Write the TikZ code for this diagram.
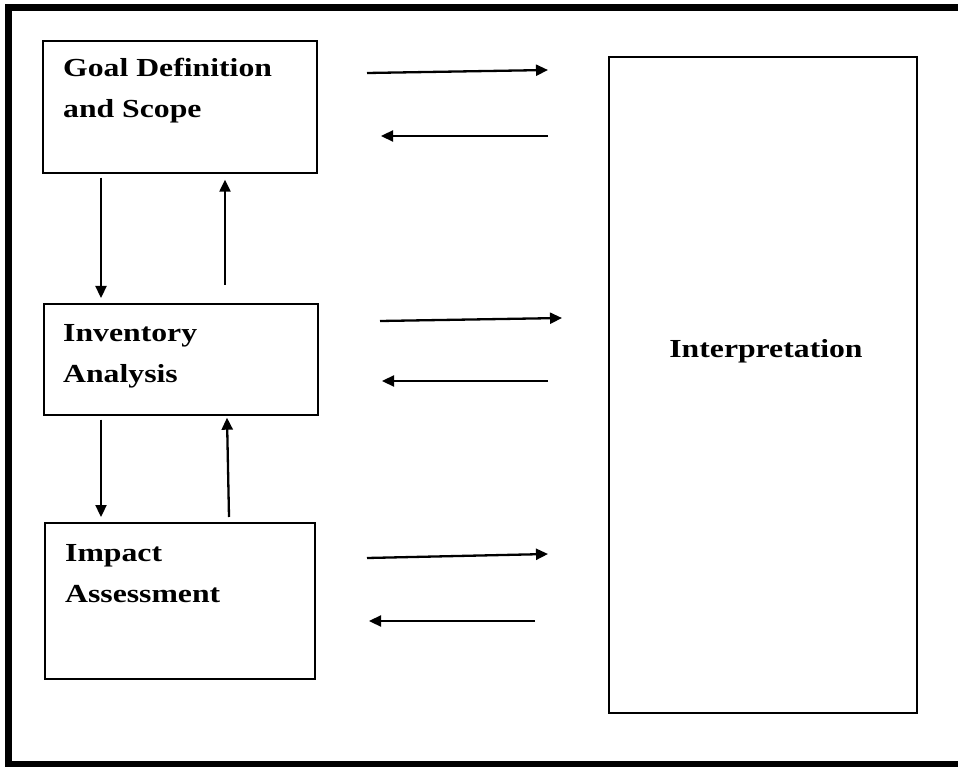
\documentclass[tikz,border=0pt]{standalone}
\usepackage{fontspec}
\newfontfamily\lcafont{Liberation Serif}[FakeStretch=1.22]
\usetikzlibrary{arrows.meta, positioning}

\begin{document}
\begin{tikzpicture}[x=1pt, y=-1pt,
    stage/.style={draw, line width=1.7pt, inner sep=0pt, anchor=north west},
    stagetext/.style={anchor=base west, inner sep=0pt, align=left,
      font=\lcafont\bfseries\fontsize{26}{41}\selectfont},
    flow/.style={line width=2.3pt, -{Triangle[length=12pt, width=11pt]}}]
  \useasboundingbox (0,0) rectangle (958,767);
  \draw[line width=7pt] (965,8) -- (8.5,8) -- (8.5,764) -- (965,764);
  % stages
  \node[stage, minimum width=274pt, minimum height=132pt] (goal) at (42,40) {};
  \node[stage, minimum width=274pt, minimum height=111pt] (inv) at (43,303) {};
  \node[stage, minimum width=270pt, minimum height=156pt] (imp) at (44,522) {};
  \node[stage, minimum width=308pt, minimum height=656pt] (interp) at (608,56) {};
  \node[stagetext] (goaltxt) at (63,118) {Goal Definition\\and Scope};
  \node[stagetext] (invtxt) at (63,382) {Inventory\\Analysis};
  \node[stagetext] (imptxt) at (65,602) {Impact\\Assessment};
  \node[stagetext, anchor=base] (interptxt) at (766,357) {Interpretation};
  % up and down between stages
  \draw[flow] ([xshift=59pt, yshift=-4pt]goal.south west) -- ([xshift=58pt, yshift=5pt]inv.north west);
  \draw[flow] ([xshift=182pt, yshift=18pt]inv.north west) -- ([xshift=183pt, yshift=-6pt]goal.south west);
  \draw[flow] ([xshift=58pt, yshift=-4pt]inv.south west) -- ([xshift=57pt, yshift=5pt]imp.north west);
  \draw[flow] ([xshift=185pt, yshift=5pt]imp.north west) -- ([xshift=184pt, yshift=-2pt]inv.south west);
  % to and from interpretation
  \coordinate (r1a) at (367,73);  \coordinate (r1b) at (548,70);
  \coordinate (l1a) at (548,136); \coordinate (l1b) at (381,136);
  \coordinate (r2a) at (380,321); \coordinate (r2b) at (562,318);
  \coordinate (l2a) at (548,381); \coordinate (l2b) at (382,381);
  \coordinate (r3a) at (367,558); \coordinate (r3b) at (548,554);
  \coordinate (l3a) at (535,621); \coordinate (l3b) at (369,621);
  \foreach \a/\b in {r1a/r1b, l1a/l1b, r2a/r2b, l2a/l2b, r3a/r3b, l3a/l3b}
    \draw[flow] (\a) -- (\b);
\end{tikzpicture}
\end{document}
